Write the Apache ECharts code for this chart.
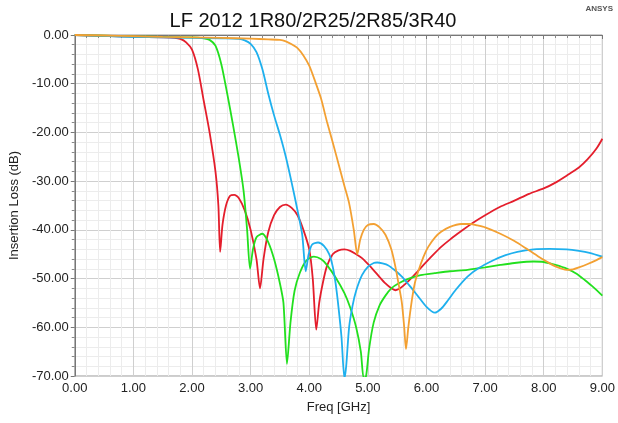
<!DOCTYPE html>
<html><head><meta charset="utf-8">
<script src="https://cdn.jsdelivr.net/npm/echarts@6/dist/echarts.min.js"></script>
<style>html,body{margin:0;padding:0;background:#fff}#c{width:618px;height:423px}</style>
</head><body><div id="c"></div>
<script>
const titleText = "LF 2012 1R80/2R25/2R85/3R40";
const xName = "Freq [GHz]";
const yName = "Insertion Loss (dB)";
const seriesNames = ["1R80", "2R25", "2R85", "3R40"];

const red = [[0,0],[0.5,-0.2],[1.0,-0.35],[1.5,-0.5],[1.7,-0.6],[1.8,-0.8],[1.9,-1.5],[2.0,-3.0],[2.1,-7],[2.2,-13.5],[2.3,-20],[2.4,-28],[2.45,-35],[2.48,-44.5],[2.52,-39],[2.58,-35],[2.65,-33],[2.72,-32.8],[2.8,-33.5],[2.9,-36],[3.0,-40],[3.1,-46],[3.16,-52],[3.22,-46],[3.3,-40.5],[3.4,-37],[3.5,-35.3],[3.6,-34.8],[3.7,-35.5],[3.8,-37],[3.9,-40],[4.0,-44],[4.06,-50],[4.12,-60.5],[4.17,-55],[4.23,-51],[4.3,-47.5],[4.4,-45],[4.5,-44.2],[4.6,-44],[4.7,-44.3],[4.8,-45],[4.9,-45.8],[5.0,-47],[5.1,-48.3],[5.2,-49.7],[5.3,-51],[5.4,-52],[5.47,-52.4],[5.55,-52],[5.65,-51],[5.75,-49.8],[5.85,-48.5],[5.95,-47.2],[6.1,-45.3],[6.25,-43.5],[6.4,-42],[6.6,-40.2],[6.8,-38.5],[7.0,-37],[7.25,-35.3],[7.5,-34],[7.75,-32.6],[8.0,-31.5],[8.2,-30.3],[8.4,-28.8],[8.6,-27.2],[8.75,-25.5],[8.9,-23.3],[9.0,-21.3]];

const green = [[0,0],[0.5,-0.15],[1.0,-0.3],[1.5,-0.4],[2.0,-0.5],[2.2,-0.7],[2.3,-1.0],[2.4,-2.2],[2.5,-6],[2.6,-12],[2.7,-18.5],[2.8,-25.5],[2.88,-32],[2.94,-40],[2.99,-48],[3.04,-44],[3.1,-41.5],[3.2,-40.8],[3.3,-42.5],[3.4,-46],[3.5,-51],[3.56,-55],[3.62,-67.5],[3.68,-59],[3.75,-52.5],[3.84,-48.8],[3.95,-46.3],[4.08,-45.5],[4.2,-46],[4.3,-47.2],[4.45,-49.8],[4.6,-53],[4.7,-56],[4.8,-60],[4.88,-65],[4.93,-70.5],[4.97,-70],[5.02,-64.5],[5.1,-59],[5.2,-55.5],[5.3,-53.5],[5.4,-52],[5.52,-51],[5.7,-50],[5.9,-49.3],[6.14,-48.9],[6.4,-48.5],[6.7,-48.2],[7.0,-47.7],[7.26,-47.2],[7.5,-46.8],[7.83,-46.5],[8.0,-46.6],[8.2,-47.2],[8.4,-48],[8.56,-49],[8.7,-50.3],[8.85,-51.8],[9.0,-53.5]];

const blue = [[0,0],[0.5,-0.2],[1.0,-0.4],[1.5,-0.5],[2.0,-0.6],[2.5,-0.7],[2.8,-0.8],[2.9,-1.1],[3.0,-1.8],[3.1,-3.5],[3.2,-7],[3.3,-12],[3.4,-16.5],[3.5,-20.5],[3.6,-25],[3.7,-30.3],[3.8,-36],[3.88,-41],[3.94,-48.5],[3.99,-45],[4.05,-43],[4.15,-42.6],[4.25,-43.3],[4.34,-45],[4.4,-47.5],[4.45,-51],[4.5,-56],[4.55,-62],[4.6,-70.5],[4.63,-68],[4.68,-60],[4.74,-55.5],[4.8,-52.5],[4.9,-49.3],[5.0,-47.6],[5.1,-46.8],[5.16,-46.7],[5.25,-46.9],[5.35,-47.3],[5.45,-48.2],[5.58,-49.6],[5.7,-51.3],[5.86,-53.7],[6.0,-55.8],[6.14,-57],[6.25,-56.2],[6.37,-54.4],[6.5,-52.3],[6.7,-49.6],[6.9,-47.8],[7.15,-46.2],[7.35,-45.2],[7.55,-44.5],[7.83,-44],[8.1,-43.9],[8.39,-44],[8.6,-44.3],[8.78,-44.7],[9.0,-45.5]];

const orange = [[0,0],[0.5,-0.1],[1.0,-0.25],[1.5,-0.4],[2.0,-0.5],[2.5,-0.6],[3.0,-0.75],[3.3,-0.9],[3.5,-1.0],[3.6,-1.3],[3.7,-1.9],[3.8,-2.7],[3.9,-4.2],[4.0,-6.3],[4.1,-9.5],[4.2,-13],[4.3,-17.7],[4.4,-22],[4.5,-26.5],[4.6,-31],[4.68,-34.5],[4.76,-40],[4.82,-45],[4.87,-42],[4.93,-40],[5.0,-39],[5.1,-38.8],[5.2,-39.5],[5.3,-41],[5.4,-44],[5.47,-47.6],[5.53,-51.5],[5.58,-55],[5.62,-60],[5.65,-64.5],[5.69,-60],[5.75,-54.5],[5.8,-51],[5.86,-48.5],[5.95,-45.5],[6.03,-43.5],[6.15,-41.5],[6.25,-40.4],[6.4,-39.4],[6.59,-38.8],[6.75,-38.8],[6.87,-39.1],[7.0,-39.5],[7.26,-40.8],[7.5,-42.3],[7.71,-43.9],[7.9,-45.4],[8.05,-46.5],[8.2,-47.5],[8.39,-48.2],[8.5,-48.1],[8.6,-47.7],[8.75,-47],[8.9,-46.2],[9.0,-45.6]];

const colors = ["#e41e2c", "#22e01e", "#1eb0ee", "#f3a032"];
const allData = [red, green, blue, orange];

const chart = echarts.init(document.getElementById('c'), null, {renderer: 'canvas'});
const font = "Liberation Sans, Arial, sans-serif";
chart.setOption({
  animation: false,
  backgroundColor: '#fff',
  title: {text: titleText, left: 308, textAlign: 'center', top: 6,
    textStyle: {fontFamily: font, fontSize: 20, fontWeight: 'normal', color: '#111'}},
  graphic: [{type: 'text', right: 5, top: 5, style: {text: 'ANSYS', font: 'bold 8px ' + font, fill: '#555'}}],
  grid: {left: 69, right: 15, top: 35, bottom: 47, show: true, borderColor: '#999', borderWidth: 1},
  xAxis: {type: 'value', min: 0, max: 9, interval: 1,
    name: xName, nameLocation: 'middle', nameGap: 25,
    nameTextStyle: {fontFamily: font, fontSize: 13, color: '#222'},
    axisLine: {lineStyle: {color: '#777'}},
    axisTick: {show: true, length: 4, lineStyle: {color: '#777'}},
    minorTick: {show: true, splitNumber: 5, length: 3, lineStyle: {color: '#888'}},
    splitLine: {lineStyle: {color: '#cfcfcf'}},
    minorSplitLine: {show: true, lineStyle: {color: '#ececec'}},
    axisLabel: {fontFamily: font, fontSize: 13, color: '#222', margin: 6, formatter: v => v.toFixed(2)}},
  yAxis: {type: 'value', min: -70, max: 0, interval: 10,
    name: yName, nameLocation: 'middle', nameGap: 47,
    nameTextStyle: {fontFamily: font, fontSize: 13, color: '#222'},
    axisLine: {show: true, lineStyle: {color: '#777'}},
    axisTick: {show: true, length: 4, lineStyle: {color: '#777'}},
    minorTick: {show: true, splitNumber: 5, length: 3, lineStyle: {color: '#888'}},
    splitLine: {lineStyle: {color: '#cfcfcf'}},
    minorSplitLine: {show: true, lineStyle: {color: '#ececec'}},
    axisLabel: {fontFamily: font, fontSize: 13, color: '#222', margin: 6, formatter: v => v.toFixed(2)}},
  series: allData.map((d, i) => ({
    name: seriesNames[i], type: 'line', data: d, showSymbol: false, smooth: 0.25,
    clip: true, lineStyle: {color: colors[i], width: 1.8}, itemStyle: {color: colors[i]}
  }))
});
</script></body></html>
